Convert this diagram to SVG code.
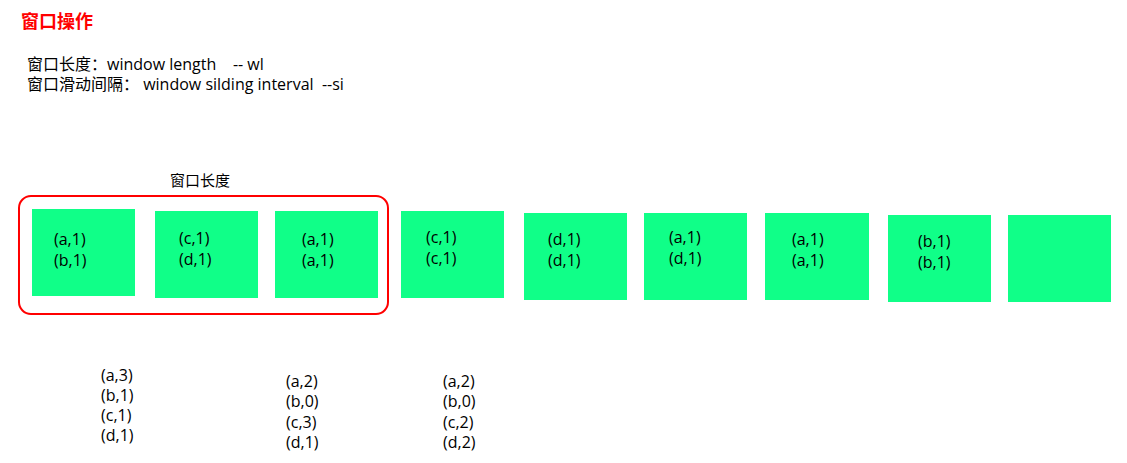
<svg xmlns="http://www.w3.org/2000/svg" width="1127" height="463" viewBox="0 0 1127 463">
<style>
text { font-family: "Open Sans", "Noto Sans CJK SC", sans-serif; fill: #000; white-space: pre; }
.t { font-size: 16px; }
.l { font-size: 15px; }
.h { font-size: 18px; font-weight: bold; fill: #ff0000; font-family: "Noto Sans CJK SC", sans-serif; }
.box { fill: #10ff88; }
.win { fill: none; stroke: #ff0000; stroke-width: 2; }
</style>
<rect width="1127" height="463" fill="#ffffff"/>
<text class="h" x="21" y="28">窗口操作</text>
<text class="t" x="27" y="70" xml:space="preserve">窗口长度：window length    -- wl</text>
<text class="t" x="27" y="90" xml:space="preserve">窗口滑动间隔： window silding interval  --si</text>

<g id="window">
<rect class="win" x="19" y="196" width="369" height="118" rx="12" ry="12"/>
<text class="l" x="170" y="186">窗口长度</text>
</g>

<g id="n1"><rect class="box" x="32" y="209" width="103" height="87"/>
<text class="t" x="54" y="245">(a,1)</text><text class="t" x="54" y="266">(b,1)</text></g>
<g id="n2"><rect class="box" x="155" y="211" width="103" height="87"/>
<text class="t" x="179" y="244">(c,1)</text><text class="t" x="179" y="265">(d,1)</text></g>
<g id="n3"><rect class="box" x="275" y="211" width="103" height="87"/>
<text class="t" x="302" y="245">(a,1)</text><text class="t" x="302" y="266">(a,1)</text></g>
<g id="n4"><rect class="box" x="401" y="211" width="103" height="87"/>
<text class="t" x="426" y="243">(c,1)</text><text class="t" x="426" y="264">(c,1)</text></g>
<g id="n5"><rect class="box" x="524" y="213" width="103" height="87"/>
<text class="t" x="548" y="245">(d,1)</text><text class="t" x="548" y="266">(d,1)</text></g>
<g id="n6"><rect class="box" x="644" y="213" width="103" height="87"/>
<text class="t" x="669" y="243">(a,1)</text><text class="t" x="669" y="264">(d,1)</text></g>
<g id="n7"><rect class="box" x="765" y="213" width="104" height="87"/>
<text class="t" x="792" y="245">(a,1)</text><text class="t" x="792" y="266">(a,1)</text></g>
<g id="n8"><rect class="box" x="888" y="215" width="103" height="87"/>
<text class="t" x="918" y="247">(b,1)</text><text class="t" x="918" y="268">(b,1)</text></g>
<g id="n9"><rect class="box" x="1008" y="215" width="103" height="87"/></g>

<g id="r1">
<text class="t" x="101" y="381">(a,3)</text><text class="t" x="101" y="401">(b,1)</text>
<text class="t" x="101" y="421">(c,1)</text><text class="t" x="101" y="441">(d,1)</text>
</g>
<g id="r2">
<text class="t" x="286" y="387">(a,2)</text><text class="t" x="286" y="407">(b,0)</text>
<text class="t" x="286" y="428">(c,3)</text><text class="t" x="286" y="448">(d,1)</text>
</g>
<g id="r3">
<text class="t" x="443" y="387">(a,2)</text><text class="t" x="443" y="407">(b,0)</text>
<text class="t" x="443" y="428">(c,2)</text><text class="t" x="443" y="448">(d,2)</text>
</g>
<g id="connectors"></g>
</svg>
